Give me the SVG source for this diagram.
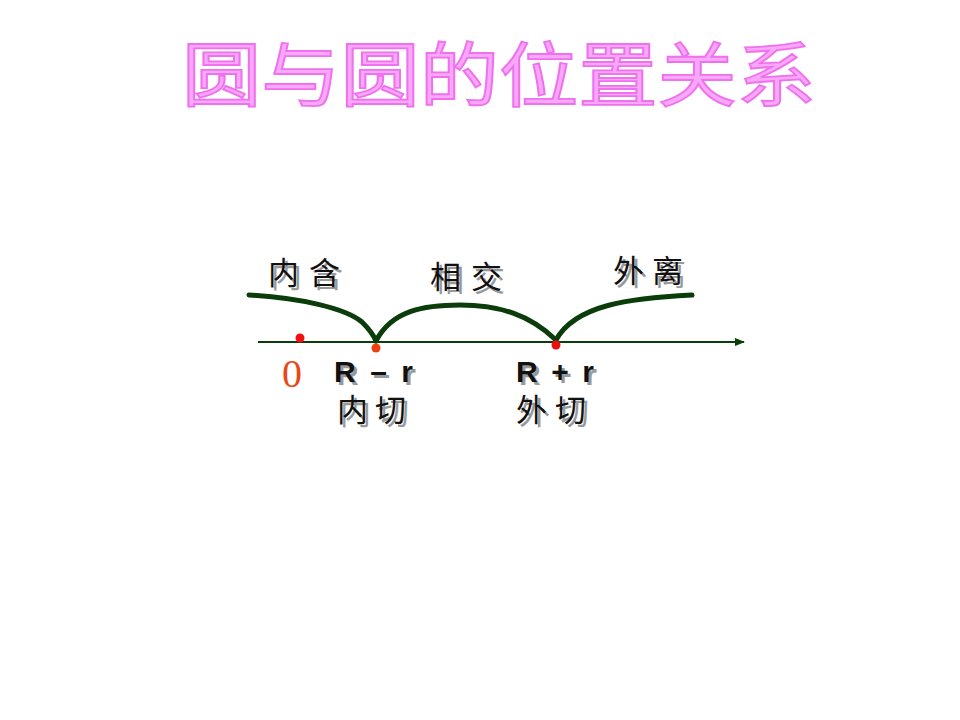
<svg xmlns="http://www.w3.org/2000/svg" width="960" height="720" viewBox="0 0 960 720">
<defs>
<style>
.title{font-family:"Noto Sans CJK SC","Noto Sans",sans-serif;font-size:70px;font-weight:400;fill:#F8A8F8;stroke:#F070F0;stroke-width:1.8}
.cn{font-family:"Noto Sans CJK SC",sans-serif;font-size:31px;fill:#111}
.cns{font-family:"Noto Sans CJK SC",sans-serif;font-size:31px;fill:#999}
.rr{font-family:"Liberation Sans",Arial,sans-serif;font-size:30px;font-weight:bold;fill:#111}
.rrs{font-family:"Liberation Sans",Arial,sans-serif;font-size:30px;font-weight:bold;fill:#999}
.curve{fill:none;stroke:#0B3D0B;stroke-width:5;stroke-linecap:round}
</style>
<marker id="arr" markerWidth="10" markerHeight="8" refX="9" refY="4" orient="auto" markerUnits="userSpaceOnUse">
<path d="M0,0 L10,4 L0,8 Z" fill="#0B3D0B"/>
</marker>
</defs>
<rect width="960" height="720" fill="#fff"/>
<g id="title">
<text class="title" x="182" y="101" textLength="634" lengthAdjust="spacingAndGlyphs">圆与圆的位置关系</text>
</g>
<g id="connectors">
<line x1="258" y1="342" x2="744" y2="342" stroke="#0B3D0B" stroke-width="2.2" marker-end="url(#arr)"/>
<path class="curve" d="M249,295 C300,298 345,308 362,322 C370,330 374,336 376,341"/>
<path class="curve" d="M376,341 C392,310 425,305 460,305 C500,305 530,315 556,340"/>
<path class="curve" d="M556,340 C575,305 630,298 692,295"/>
</g>
<g id="dot0"><circle cx="300" cy="338" r="4.5" fill="#F01010"/></g>
<g id="dot1"><circle cx="376" cy="348" r="4.5" fill="#F04010"/></g>
<g id="dot2"><circle cx="556" cy="345" r="4.5" fill="#E81010"/></g>
<g id="label-neihan">
<text class="cns" x="271" y="287" textLength="72">内含</text>
<text class="cn" x="268" y="284" textLength="72">内含</text>
</g>
<g id="label-xiangjiao">
<text class="cns" x="433" y="291" textLength="72">相交</text>
<text class="cn" x="430" y="288" textLength="72">相交</text>
</g>
<g id="label-waili">
<text class="cns" x="616" y="285" textLength="70">外离</text>
<text class="cn" x="613" y="282" textLength="70">外离</text>
</g>
<g id="label-zero">
<text x="292" y="387" text-anchor="middle" font-family="Liberation Serif,serif" font-size="40" fill="#E84818">0</text>
</g>
<g id="label-rminus">
<text class="rrs" x="337" y="385" textLength="79">R – r</text>
<text class="rr" x="334" y="382" textLength="79">R – r</text>
<text class="cns" x="340" y="424" textLength="69">内切</text>
<text class="cn" x="337" y="421" textLength="69">内切</text>
</g>
<g id="label-rplus">
<text class="rrs" x="519" y="385" textLength="78">R + r</text>
<text class="rr" x="516" y="382" textLength="78">R + r</text>
<text class="cns" x="519" y="424" textLength="70">外切</text>
<text class="cn" x="516" y="421" textLength="70">外切</text>
</g>
</svg>
